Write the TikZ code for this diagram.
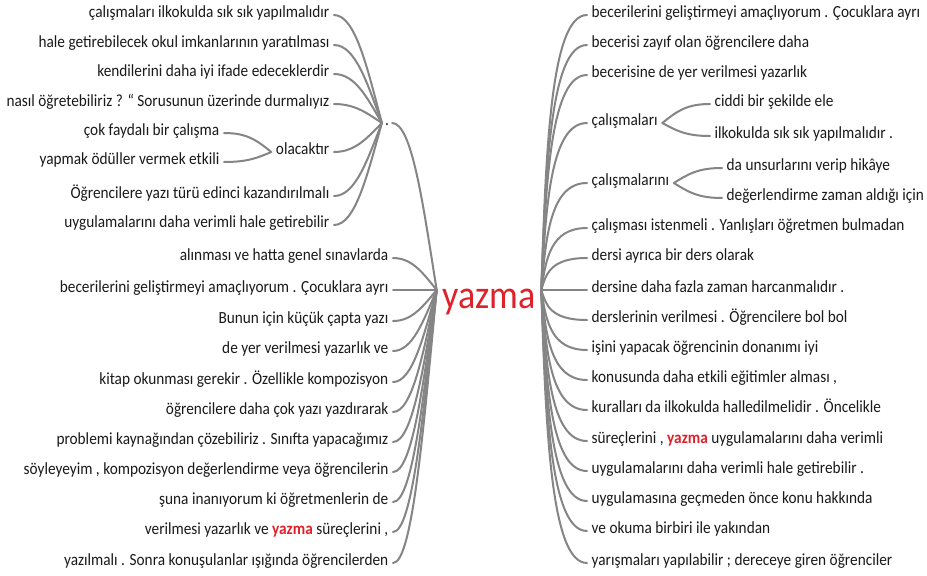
\documentclass[tikz,border=0pt]{standalone}
\usepackage{fontspec}
\setmainfont{Carlito}[FakeStretch=0.9]
\usetikzlibrary{calc}
\definecolor{txt}{HTML}{1A1A1A}
\definecolor{lnk}{HTML}{858585}
\definecolor{yred}{HTML}{E0202A}
\newcommand{\itemfont}{\fontsize{17}{19}\selectfont}
\newcommand{\hlw}[1]{{\bfseries\color{yred}#1}}
% generic curved link: from #1 to #2, params a b c
\newcommand{\curvelink}[5]{\draw[link] let \p1=(#1), \p2=(#2) in (\p1) .. controls ({\x1+#3*(\x2-\x1)},{\y1+#4*(\y2-\y1)}) and ({\x1+#5*(\x2-\x1)},{\y2}) .. (\p2);}
\newcommand{\rlink}[2]{\curvelink{#1}{#2}{0.1}{0.5}{0.2}}
\newcommand{\llink}[2]{\curvelink{#1}{#2}{0.3}{0.5}{0.55}}
\newcommand{\blink}[2]{\curvelink{#1}{#2}{0.3}{0.6}{0.5}}
\tikzset{
  item/.style={text=txt, font=\itemfont, inner xsep=4.5pt, inner ysep=0pt, text height=0.72em, text depth=0.22em},
  L/.style={item, anchor=east},
  R/.style={item, anchor=west},
  link/.style={draw=lnk, line width=2pt, line cap=round},
}
\begin{document}
\begin{tikzpicture}[x=1pt,y=-1pt]
\fill[white] (0,0) rectangle (927,576);
\path[use as bounding box] (0,0) rectangle (927,576);

% centre
\node[text=yred, font=\fontsize{40}{44}\selectfont, inner xsep=5.5pt, inner ysep=0pt, text height=46pt, text depth=10pt] (yazma) at (489,290) {yazma};

% left top group around the dot
\node[item, inner xsep=3pt] (dot) at (387,123) {.};
\node[L] (lt1) at (334,15) {çalışmaları ilkokulda sık sık yapılmalıdır};
\node[L] (lt2) at (334,45) {hale getirebilecek okul imkanlarının yaratılması};
\node[L] (lt3) at (334,74) {kendilerini daha iyi ifade edeceklerdir};
\node[L] (lt4) at (334,104) {nasıl öğretebiliriz ? “ Sorusunun üzerinde durmalıyız};
\node[L] (olac) at (334,152) {olacaktır};
\node[L] (oc1) at (224,133) {çok faydalı bir çalışma};
\node[L] (oc2) at (224,162) {yapmak ödüller vermek etkili};
\node[L] (lt5) at (334,196) {Öğrencilere yazı türü edinci kazandırılmalı};
\node[L] (lt6) at (334,225) {uygulamalarını daha verimli hale getirebilir};

% left lower group
\node[L] (ll1) at (393,258) {alınması ve hatta genel sınavlarda};
\node[L] (ll2) at (393,290) {becerilerini geliştirmeyi amaçlıyorum . Çocuklara ayrı};
\node[L] (ll3) at (393,321) {Bunun için küçük çapta yazı};
\node[L] (ll4) at (393,351) {de yer verilmesi yazarlık ve};
\node[L] (ll5) at (393,382) {kitap okunması gerekir . Özellikle kompozisyon};
\node[L] (ll6) at (393,412) {öğrencilere daha çok yazı yazdırarak};
\node[L] (ll7) at (393,442) {problemi kaynağından çözebiliriz . Sınıfta yapacağımız};
\node[L] (ll8) at (393,472) {söyleyeyim , kompozisyon değerlendirme veya öğrencilerin};
\node[L] (ll9) at (393,502) {şuna inanıyorum ki öğretmenlerin de};
\node[L] (ll10) at (393,532) {verilmesi yazarlık ve \hlw{yazma} süreçlerini ,};
\node[L] (ll11) at (393,563) {yazılmalı . Sonra konuşulanlar ışığında öğrencilerden};

% right group
\node[R] (r1) at (587,15) {becerilerini geliştirmeyi amaçlıyorum . Çocuklara ayrı};
\node[R] (r2) at (587,45) {becerisi zayıf olan öğrencilere daha};
\node[R] (r3) at (587,75) {becerisine de yer verilmesi yazarlık};
\node[R] (r4) at (587,123) {çalışmaları};
\node[R] (rc1) at (710,104) {ciddi bir şekilde ele};
\node[R] (rc2) at (710,136) {ilkokulda sık sık yapılmalıdır .};
\node[R] (r5) at (587,183) {çalışmalarını};
\node[R] (rd1) at (722,168) {da unsurlarını verip hikâye};
\node[R] (rd2) at (722,198) {değerlendirme zaman aldığı için};
\node[R] (r6) at (587,228) {çalışması istenmeli . Yanlışları öğretmen bulmadan};
\node[R] (r7) at (587,258) {dersi ayrıca bir ders olarak};
\node[R] (r8) at (587,290) {dersine daha fazla zaman harcanmalıdır .};
\node[R] (r9) at (587,320) {derslerinin verilmesi . Öğrencilere bol bol};
\node[R] (r10) at (587,350) {işini yapacak öğrencinin donanımı iyi};
\node[R] (r11) at (587,380) {konusunda daha etkili eğitimler alması ,};
\node[R] (r12) at (587,410) {kuralları da ilkokulda halledilmelidir . Öncelikle};
\node[R] (r13) at (587,441) {süreçlerini , \hlw{yazma} uygulamalarını daha verimli};
\node[R] (r14) at (587,471) {uygulamalarını daha verimli hale getirebilir .};
\node[R] (r15) at (587,501) {uygulamasına geçmeden önce konu hakkında};
\node[R] (r16) at (587,531) {ve okuma birbiri ile yakından};
\node[R] (r17) at (587,563) {yarışmaları yapılabilir ; dereceye giren öğrenciler};

% links: left
\llink{yazma.west}{dot.east}
\foreach \nm in {ll1,ll2,ll3,ll4,ll5,ll6,ll7,ll8,ll9,ll10,ll11}{\llink{yazma.west}{\nm.east}}
\foreach \nm in {lt1,lt2,lt3,lt4,olac,lt5,lt6}{\llink{dot.west}{\nm.east}}
\blink{olac.west}{oc1.east}
\blink{olac.west}{oc2.east}
% links: right
\foreach \nm in {r1,r2,r3,r4,r5,r6,r7,r8,r9,r10,r11,r12,r13,r14,r15,r16,r17}{\rlink{yazma.east}{\nm.west}}
\blink{r4.east}{rc1.west}
\blink{r4.east}{rc2.west}
\blink{r5.east}{rd1.west}
\blink{r5.east}{rd2.west}
\end{tikzpicture}
\end{document}
